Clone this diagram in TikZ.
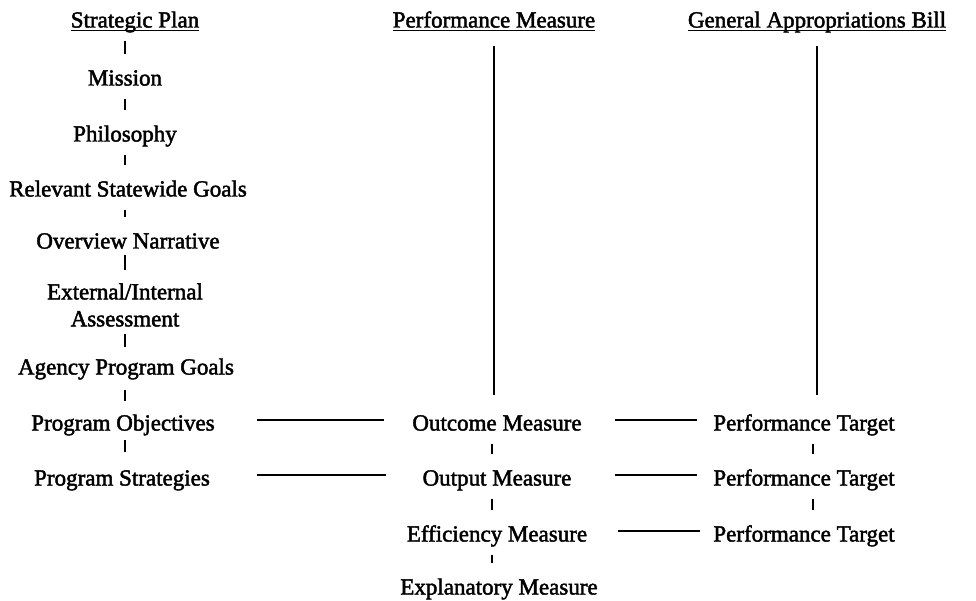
\documentclass[tikz,border=0pt]{standalone}
\usepackage{fontspec}
\setmainfont{Liberation Serif}
\newfontfamily\scanfont{Liberation Serif}[FakeBold=2]
\usetikzlibrary{positioning}

\tikzset{
  item/.style={font=\scanfont\fontsize{23}{27}\selectfont, inner sep=2pt, text height=21pt, text depth=0pt},
  item2/.style={font=\scanfont\fontsize{23}{27}\selectfont, inner sep=2pt, align=center},
  head/.style={item, inner xsep=0pt},
  tick/.style={line width=1.4pt, shorten <=11pt, shorten >=8pt},
  link/.style={line width=1.4pt},
  uline/.style={line width=1.6pt},
}

\begin{document}
\begin{tikzpicture}[x=1pt, y=-1pt]
  \useasboundingbox (0,0) rectangle (976,601);

  % Headers
  \node[head] (sp) at (135,17) {Strategic Plan};
  \node[head] (pm) at (494,17) {Performance Measure};
  \node[head] (gab) at (817,17) {General Appropriations Bill};
  \foreach \h in {sp, pm, gab}
    \draw[uline] ([yshift=-3pt]\h.base west) -- ([yshift=-3pt]\h.base east);

  % Strategic plan column
  \node[item] (mis) at (125,75) {Mission};
  \node[item] (phi) at (125,131) {Philosophy};
  \node[item] (rsg) at (128,186) {Relevant Statewide Goals};
  \node[item] (ovn) at (128,238) {Overview Narrative};
  \node[item2] (eia) at (125,305) {External/Internal\\Assessment};
  \node[item] (apg) at (126,364) {Agency Program Goals};
  \node[item] (pob) at (123,420) {Program Objectives};
  \node[item] (pst) at (122,475) {Program Strategies};

  \draw[tick] (mis.north |- sp.south) -- (mis.north);
  \draw[tick] (mis) -- (phi);
  \draw[tick] (phi.south) -- (phi.south |- rsg.north);
  \draw[tick] (phi.south |- rsg.south) -- (phi.south |- ovn.north);
  \draw[tick, shorten <=4.5pt, shorten >=11.5pt] (eia.north |- ovn.south) -- (eia.north);
  \draw[tick, shorten <=5pt, shorten >=4.5pt] (eia.south) -- (eia.south |- apg.north);
  \draw[tick, shorten <=13pt, shorten >=6pt] (eia.south |- apg.south) -- (eia.south |- pob.north);
  \draw[tick, shorten <=7pt, shorten >=10pt] (eia.south |- pob.south) -- (eia.south |- pst.north);

  % Performance measure column
  \node[item] (om) at (497,420) {Outcome Measure};
  \node[item] (opm) at (497,475) {Output Measure};
  \node[item] (em) at (497,531) {Efficiency Measure};
  \node[item] (xm) at (499,584) {Explanatory Measure};

  \draw[link, shorten <=16.5pt, shorten >=12.5pt] (pm.south) -- (pm.south |- om.north);
  \draw[tick] ([xshift=-5pt]om.south) -- ([xshift=-5pt]opm.north);
  \draw[tick] ([xshift=-5pt]opm.south) -- ([xshift=-5pt]em.north);
  \draw[tick] ([xshift=-5pt]em.south) -- ([xshift=-5pt]em.south |- xm.north);

  % Appropriations column
  \node[item] (pt1) at (804,420) {Performance Target};
  \node[item] (pt2) at (804,475) {Performance Target};
  \node[item] (pt3) at (804,531) {Performance Target};

  \draw[link, shorten <=16.5pt, shorten >=12.5pt] (gab.south) -- (gab.south |- pt1.north);
  \draw[tick] ([xshift=9pt]pt1.south) -- ([xshift=9pt]pt2.north);
  \draw[tick] ([xshift=9pt]pt2.south) -- ([xshift=9pt]pt3.north);

  % Cross links
  \draw[link, shorten <=40pt, shorten >=26pt] (pob) -- (om);
  \draw[link, shorten <=45pt, shorten >=34pt] (pst) -- (opm);
  \draw[link, shorten <=31pt, shorten >=14pt] (om) -- (pt1);
  \draw[link, shorten <=41pt, shorten >=14pt] (opm) -- (pt2);
  \draw[link, shorten <=29pt, shorten >=11pt] (em) -- (pt3);
\end{tikzpicture}
\end{document}
